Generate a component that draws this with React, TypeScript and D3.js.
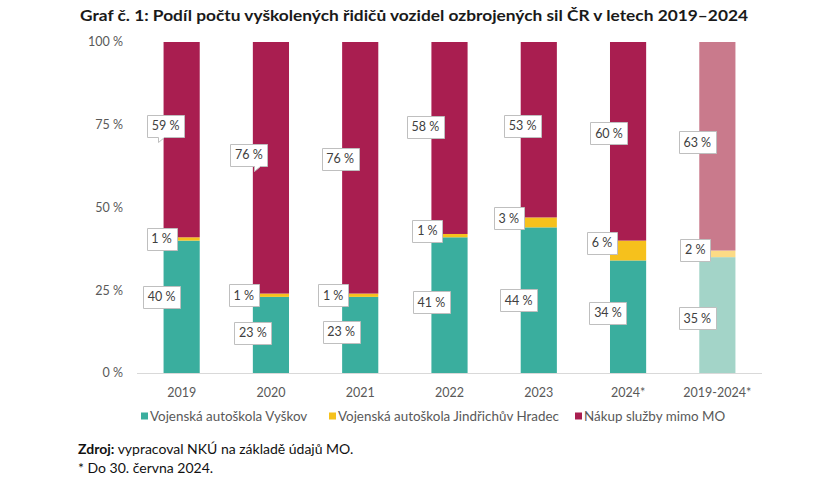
import React from 'react';
import * as d3 from 'd3';

// values (percent)
const categories = ['2019', '2020', '2021', '2022', '2023', '2024*', '2019-2024*'];
const vyskov = [40, 23, 23, 41, 44, 34, 35];
const hradec = [1, 1, 1, 1, 3, 6, 2];
const nakup = [59, 76, 76, 58, 53, 60, 63];
const seriesNames = [
  'Vojenská autoškola Vyškov',
  'Vojenská autoškola Jindřichův Hradec',
  'Nákup služby mimo MO',
];
const yTicks = [0, 25, 50, 75, 100];

const title = 'Graf č. 1: Podíl počtu vyškolených řidičů vozidel ozbrojených sil ČR v letech 2019–2024';

// styling / layout
const colors = ['#3aae9e', '#f6c11c', '#a91e50'];
const paleColors = ['#a3d4c8', '#fcdb86', '#c97a8c'];
const FONT = 'Lato, "Open Sans", sans-serif';

// hand-placed callout nudges in px, per series per category
const nudgeX = [
  [-2, 0, -1, 0, -2, -2, -2],
  [-2, -9, -9, -4, -12, -8, -4],
  [2, -4, -2, -6, 2, -1, -2],
];
const nudgeY = [
  [-10, -2, -3, -3, 0, -4, 3],
  [0, 0, 0, -5, -4, -8, -4],
  [-14, -13, -9, -11, -4, -8, -4],
];
// callouts with a small pointer: [series, category, offset from box centre]
const tails: [number, number, number][] = [
  [2, 0, -8],
  [2, 1, 5],
];

const W = 840;
const H = 480;

const App: React.FC = () => {
  const rows = categories.map((c, i) => ({ cat: c, s0: vyskov[i], s1: hradec[i], s2: nakup[i] }));
  const stack = d3.stack<any>().keys(['s0', 's1', 's2']);
  const series = stack(rows);

  const x = d3.scaleBand<string>()
    .domain(categories)
    .range([137, 762])
    .paddingInner(0.595)
    .paddingOuter(0.2975);

  const y = d3.scaleLinear().domain([0, 100]).range([373, 42]);
  const bw = x.bandwidth();

  const legendX = [141, 329, 575];

  return (
    <svg width={W} height={H} style={{ position: 'absolute', left: 0, top: 0, background: '#fff' }}
      fontFamily={FONT}>
      <text x={80} y={21} fontSize={15} fontWeight={700} fill="#1a1a1a"
        textLength={668} lengthAdjust="spacingAndGlyphs">{title}</text>

      {/* y axis labels */}
      {yTicks.map(t => (
        <text key={t} x={123} y={y(t)} dy="0.35em" textAnchor="end" fontSize={12.5} fill="#595959">
          {`${t} %`}
        </text>
      ))}

      {/* bars */}
      {series.map((s, si) => (
        <g key={si}>
          {s.map((d, ci) => (
            <rect key={ci}
              x={x(categories[ci])}
              y={y(d[1])}
              width={bw}
              height={y(d[0]) - y(d[1])}
              fill={ci === categories.length - 1 ? paleColors[si] : colors[si]} />
          ))}
        </g>
      ))}

      <line x1={137} x2={762} y1={373.5} y2={373.5} stroke="#d9d9d9" strokeWidth={1} />

      {/* x axis labels */}
      {categories.map(c => (
        <text key={c} x={(x(c) as number) + bw / 2} y={397} textAnchor="middle" fontSize={12.5} fill="#595959">
          {c}
        </text>
      ))}

      {/* callout labels */}
      {series.map((s, si) => (
        <g key={si}>
          {s.map((d, ci) => {
            const v = d[1] - d[0];
            const label = `${v} %`;
            const bwBox = v >= 10 ? 37 : 30;
            const bh = 22;
            const cx = (x(categories[ci]) as number) + nudgeX[si][ci];
            const cy = y((d[0] + d[1]) / 2) + nudgeY[si][ci];
            const l = Math.round(cx - bwBox / 2) + 0.5;
            const t = Math.round(cy - bh / 2) + 0.5;
            const r = l + bwBox;
            const b = t + bh;
            const tail = tails.find(tt => tt[0] === si && tt[1] === ci);
            let path = `M${l},${t}H${r}V${b}H${l}Z`;
            if (tail) {
              const tx = Math.round(cx + tail[2]) + 0.5;
              path = `M${l},${t}H${r}V${b}H${tx + 6}L${tx},${b + 5}V${b}H${l}Z`;
            }
            return (
              <g key={ci}>
                <path d={path} fill="#fff" stroke="#bfbfbf" strokeWidth={1} />
                <text x={cx} y={cy} dy="0.36em" textAnchor="middle" fontSize={12.5} fill="#404040">{label}</text>
              </g>
            );
          })}
        </g>
      ))}

      {/* legend */}
      {seriesNames.map((n, i) => (
        <g key={n} transform={`translate(${legendX[i]},416)`}>
          <rect x={0} y={-3.5} width={7} height={7} fill={colors[i]} />
          <text x={9} y={0} dy="0.35em" fontSize={13.4} fill="#595959">{n}</text>
        </g>
      ))}

      {/* source note */}
      <text x={78} y={454} fontSize={14} fill="#111">
        <tspan fontWeight={700}>Zdroj:</tspan> vypracoval NKÚ na základě údajů MO.
      </text>
      <text x={78} y={473} fontSize={14} fill="#111">* Do 30. června 2024.</text>
    </svg>
  );
};

export default App;
